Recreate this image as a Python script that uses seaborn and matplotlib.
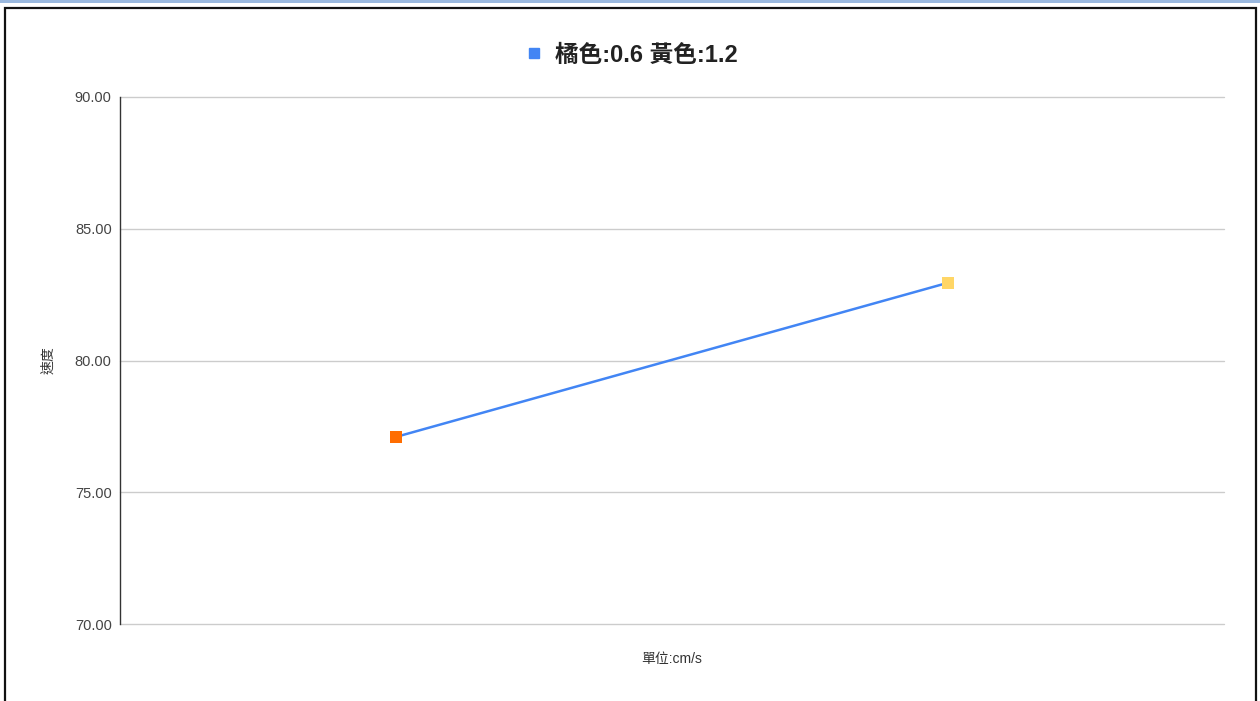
import matplotlib
matplotlib.use("Agg")
import matplotlib.pyplot as plt
import matplotlib.patches as mpatches
from matplotlib.lines import Line2D
import seaborn as sns
import pandas as pd

# Data
categories = ["橘色", "黃色"]
speeds = [77.1, 82.95]
point_colors = ["#ff6d01", "#ffd666"]
series_name = "橘色:0.6 黃色:1.2"
y_ticks = [70, 75, 80, 85, 90]

sns.set_theme(style="white")
plt.rcParams["font.family"] = ["Liberation Sans", "Noto Sans CJK TC", "DejaVu Sans"]

W, H = 1260, 701
fig = plt.figure(figsize=(W / 100, H / 100), dpi=100)
fig.patch.set_facecolor("white")

# Axes placement in pixels
left, right, top, bottom = 120, 1224, 97, 624
ax = fig.add_axes([left / W, 1 - bottom / H, (right - left) / W, (bottom - top) / H])

df = pd.DataFrame({"cat": categories, "x": range(len(categories)), "speed": speeds})

sns.lineplot(data=df, x="x", y="speed", ax=ax, color="#4285f4", linewidth=1.8,
             legend=False, zorder=3)
sns.scatterplot(data=df, x="x", y="speed", hue="cat", palette=point_colors,
                marker="s", s=75, edgecolor="none", ax=ax, legend=False, zorder=4)

ax.set_xlim(-0.5, len(categories) - 0.5)
ax.set_ylim(y_ticks[0], y_ticks[-1])
ax.set_yticks(y_ticks)
ax.set_yticklabels([f"{v:.2f}" for v in y_ticks], fontsize=10.5, color="#444444")
ax.set_xticks([])
ax.yaxis.grid(True, color="#cccccc", linewidth=1)
for gl in ax.get_ygridlines():
    gl.set_clip_on(False)
ax.set_axisbelow(True)
for side in ["top", "right", "bottom"]:
    ax.spines[side].set_visible(False)
ax.spines["left"].set_color("#333333")
ax.spines["left"].set_linewidth(1)
ax.spines["left"].set_zorder(2.5)
ax.tick_params(axis="y", length=0, pad=6)

ax.set_xlabel("單位:cm/s", fontsize=10, color="#333333", labelpad=20)
ax.set_ylabel("速度", fontsize=10, color="#333333", labelpad=14)

# Series legend at the top
handle = Line2D([], [], marker="s", linestyle="none", color="#4285f4",
                markersize=6.5)
fig.legend([handle], [series_name], loc="center", bbox_to_anchor=(0.5, 1 - 55 / H),
           frameon=False, handletextpad=0.4, handlelength=1.0,
           prop={"size": 17, "weight": "bold",
                 "family": ["Liberation Sans", "Noto Sans CJK TC", "DejaVu Sans"]},
           labelcolor="#222222")

# Outer frame and top strip
fig.patches.append(mpatches.Rectangle((0, 1 - 2.5 / H), 1, 2.5 / H, transform=fig.transFigure,
                                      facecolor="#9ab8de", edgecolor="none", zorder=10))
fig.patches.append(mpatches.Rectangle((5 / W, -0.02), (1251) / W, 1 - 8 / H + 0.02,
                                      transform=fig.transFigure, facecolor="none",
                                      edgecolor="#111111", linewidth=1.6, zorder=10))

fig.savefig("out.png", dpi=100)
